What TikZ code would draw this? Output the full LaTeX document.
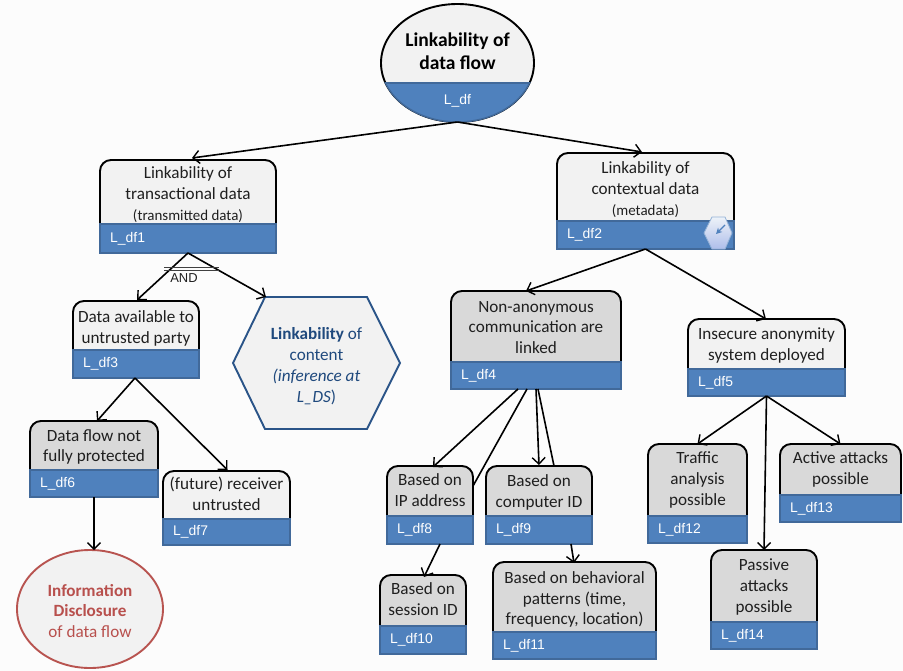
\documentclass[tikz,border=0pt]{standalone}
\usepackage{fontspec}
\setmainfont{Carlito}
\newfontfamily\labelfont{Liberation Sans}
\usetikzlibrary{arrows.meta,shapes.geometric}
\definecolor{barblue}{HTML}{4F81BD}
\definecolor{baredge}{HTML}{41699A}
\definecolor{lightbox}{HTML}{F2F2F2}
\definecolor{greybox}{HTML}{D9D9D9}
\definecolor{hexblue}{HTML}{2A5488}
\definecolor{hextext}{HTML}{1F497D}
\definecolor{redtext}{HTML}{B8504D}
\definecolor{rededge}{HTML}{B85450}
\definecolor{pagebg}{HTML}{FCFCFC}
\tikzset{
  boxtop/.style={draw=black,line width=1.9bp,rounded corners=11bp},
  boxbar/.style={fill=barblue,draw=baredge,line width=1.2bp},
  boxtext/.style={align=center,inner sep=0pt,text=black!88,font=\fontsize{17.2}{21}\selectfont},
  barlabel/.style={anchor=west,inner sep=0pt,text=white,font=\labelfont\fontsize{14}{16}\selectfont},
  slot/.style={inner sep=0pt,outer sep=0pt,shape=rectangle},
  edgearrow/.style={draw=black,line width=1.6bp,-{Straight Barb[length=6.5bp,width=13bp,line width=1.4bp]}},
  edgeplain/.style={draw=black,line width=1.6bp},
}
% number, x1, x2, ytop, ymid, ybot, fill, text centre y, text
\newcommand{\ldbox}[9]{%
  \node[slot,minimum width={(#3-#2)*1bp},minimum height={(#6-#4)*1bp}] (df#1) at ({(#2+#3)/2},{(#4+#6)/2}) {};
  \path[boxtop,fill=#7] (#2,#5) -- (#2,#4) -- (#3,#4) -- (#3,#5);
  \path[boxbar] (#2,#5) rectangle (#3,#6);
  \node[boxtext] (df#1text) at ({(#2+#3)/2},#8) {#9};
  \node[barlabel] (df#1label) at (#2+10,{(#5+#6)/2}) {L\_df#1};
}
\newcommand{\smalltxt}[1]{{\fontsize{15}{19}\selectfont #1}}
\begin{document}
\begin{tikzpicture}[x=1bp,y=-1bp]
\useasboundingbox (0,0) rectangle (903,671);
\fill[pagebg] (0,0) rectangle (903,671);

% root ellipse
\node[slot,ellipse,minimum width=153bp,minimum height=118bp,draw=black,line width=1.9bp,fill=lightbox] (root) at (457.5,63) {};
\begin{scope}
  \clip (370,83) rectangle (545,130);
  \path[fill=barblue,draw=baredge,line width=1.5bp] (457.5,63) ellipse [x radius=76.5,y radius=59];
\end{scope}
\draw[baredge,line width=1.3bp] (386,83) -- (529,83);
\node[boxtext,font=\bfseries\fontsize{19.6}{23}\selectfont,text=black] (roottext) at (457.5,51.5) {Linkability of\\data flow};
\node[barlabel,anchor=center] (rootlabel) at (457.5,101) {L\_df};

% boxes
\ldbox{1}{100}{276}{160}{224}{253}{lightbox}{195}{Linkability of\\transactional data\\\smalltxt{(transmitted data)}}
\ldbox{2}{557}{734}{153}{221}{249}{lightbox}{190}{Linkability of\\contextual data\\\smalltxt{(metadata)}}
\ldbox{3}{73}{199}{301}{350}{378}{lightbox}{328}{Data available to\\untrusted party}
\ldbox{4}{451}{621}{291}{362}{389}{greybox}{327.5}{Non-anonymous\\communication are\\linked}
\ldbox{5}{688}{845}{319}{369}{396}{lightbox}{345.5}{Insecure anonymity\\system deployed}
\ldbox{6}{30}{158}{421}{470}{497}{greybox}{447}{Data flow not\\fully protected}
\ldbox{7}{163}{290}{471}{519}{545}{lightbox}{494}{(future) receiver\\untrusted}
\ldbox{8}{387}{473}{466}{516}{544}{greybox}{490.5}{Based on\\IP address}
\ldbox{9}{486}{592}{466}{516}{544}{greybox}{492}{Based on\\computer ID}
\ldbox{10}{380}{466}{575}{626}{654}{greybox}{599.5}{Based on\\session ID}
\ldbox{11}{493}{656}{562}{632}{659}{greybox}{599.5}{Based on behavioral\\patterns (time,\\frequency, location)}
\ldbox{12}{648}{747}{444}{516}{543}{greybox}{480}{Traffic\\analysis\\possible}
\ldbox{13}{780}{901}{444}{495}{522}{greybox}{469.5}{Active attacks\\possible}
\ldbox{14}{711}{817}{550}{622}{649}{greybox}{587}{Passive\\attacks\\possible}

% content hexagon
\node[slot,minimum width=167bp,minimum height=132bp] (hexbox) at (316.5,363) {};
\path[draw=hexblue,line width=1.9bp,fill=lightbox] (265,297) -- (367,297) -- (400,363) -- (367,429) -- (265,429) -- (233,363) -- cycle;
\node[boxtext,text=hextext] (hextext) at (316.5,366) {\textbf{Linkability} of\\content\\\textit{(inference at}\\\textit{L\_DS})};

% disclosure ellipse
\node[slot,ellipse,minimum width=146bp,minimum height=118bp,draw=rededge,line width=1.9bp,fill=lightbox] (disc) at (90,609) {};
\node[boxtext,text=redtext] (disctext) at (90,611) {\textbf{Information}\\\textbf{Disclosure}\\of data flow};

% small annotation icon
\node[slot,minimum width=28bp,minimum height=32bp] (icon) at (718,233) {};
\path[draw=barblue!60!white,line width=0.8bp,top color=white!90!barblue,bottom color=barblue!35!white!90!blue]
  (712,217) -- (725,217) -- (732,233) -- (725,249) -- (712,249) -- (704,233) -- cycle;
\coordinate (icontail) at (725,225);
\coordinate (iconhead) at (716,234);
\draw[barblue,line width=1.3bp,-{Stealth[length=6bp,width=6bp]}] (icontail) -- (iconhead);

% connectors
\draw[edgearrow] (root.south) -- ([xshift=4bp,yshift=2bp]df1.north);
\draw[edgearrow] (root.south) -- ([xshift=-3.5bp,yshift=1bp]df2.north);
\draw[edgearrow] (df1.south) -- ([xshift=1bp,yshift=1bp]df3.north);
\draw[edgearrow] (df1.south) -- ([xshift=33bp]hexbox.north west);
\draw[edgearrow] ([xshift=-1bp]df3.south) -- ([xshift=3bp]df6.north);
\draw[edgearrow] ([xshift=-1bp]df3.south) -- ([xshift=1bp,yshift=1bp]df7.north);
\draw[edgearrow] ([xshift=0bp]df6.south) -- ([xshift=4bp]disc.north);
\draw[edgearrow] (df2.south) -- ([xshift=-10bp]df4.north);
\draw[edgearrow] (df2.south) -- ([xshift=-0.5bp]df5.north);
\draw[edgearrow] ([xshift=-18bp]df4.south) -- ([xshift=3bp,yshift=-1bp]df8.north);
\draw[edgeplain] ([xshift=-9bp]df4.south) -- ([yshift=19bp]df8.east);
\draw[edgearrow] ([xshift=0bp]df4.south) -- ([yshift=1bp]df9.north);
\draw[edgeplain] ([xshift=2bp]df4.south) -- ([xshift=15bp]df9.north);
\draw[edgearrow] ([xshift=10bp]df8.south) -- ([xshift=1bp,yshift=-2bp]df10.north);
\draw[edgearrow] ([xshift=32bp]df9.south) -- ([xshift=-0.5bp,yshift=-1bp]df11.north);
\draw[edgearrow] (df5.south) -- (df12.north);
\draw[edgearrow] (df5.south) -- (df14.north);
\draw[edgearrow] (df5.south) -- (df13.north);

% AND bar
\coordinate (andleft) at (164,267.5);
\coordinate (andright) at (219,267.5);
\draw[black!75,line width=0.9bp] (andleft) -- (andright);
\draw[black!75,line width=0.9bp] ([yshift=-2.6bp]andleft) -- ([yshift=-2.6bp]andright);
\node[inner sep=0pt,text=black!88,font=\labelfont\fontsize{13}{14}\selectfont] (andlabel) at (184,278) {AND};
\end{tikzpicture}
\end{document}
